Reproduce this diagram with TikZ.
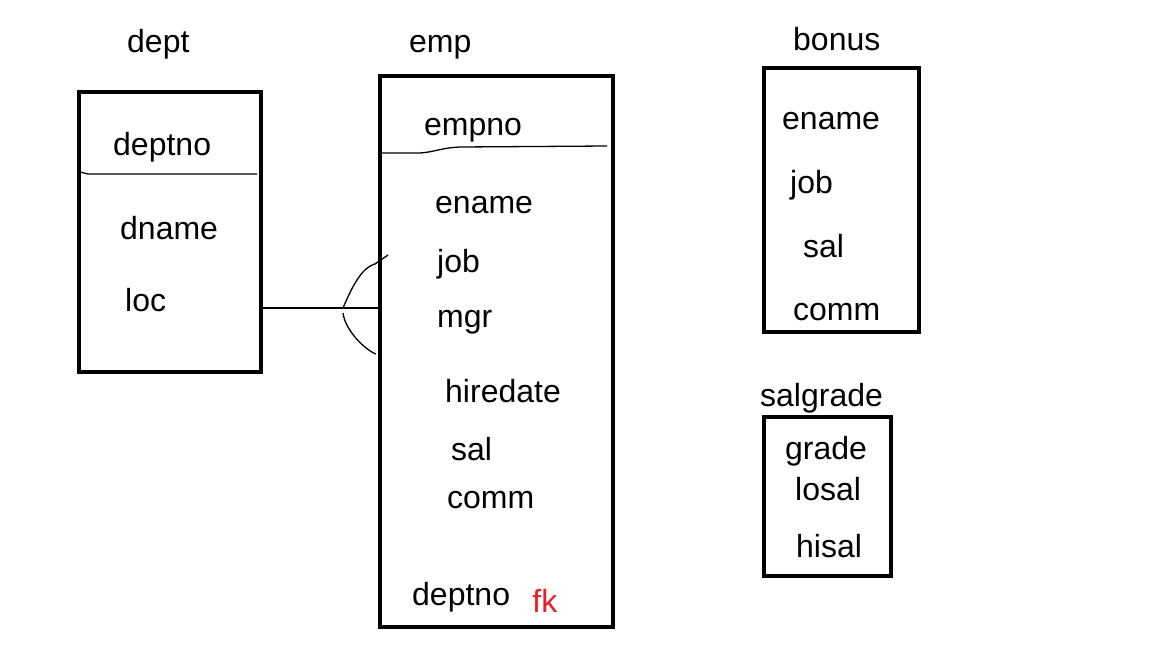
\documentclass[tikz,border=0pt]{standalone}
\usepackage{fontspec}
\setmainfont{Liberation Sans}
\usetikzlibrary{positioning}
\tikzset{
        x=1pt, y=-1pt, % one unit is one pixel, y runs down
        every node/.style={font=\fontsize{32}{37}\selectfont, inner sep=0pt, anchor=base west}, % field names
        thin line/.style={line width=1.3pt}, % dividers and the relation
    }
\tikzstyle{table}=[draw,line width=4.6pt,rectangle,inner sep=0pt,outer sep=0pt,anchor=center]
\definecolor{fkred}{RGB}{235,30,40}

\begin{document}
\begin{tikzpicture}
    \useasboundingbox[fill=white] (0,0) rectangle (1152,648);

    % tables
    \node[table, minimum width=182pt, minimum height=280pt] (dept) at (170,232) {};
    \node[table, minimum width=233pt, minimum height=551pt] (emp) at (496.5,351.5) {};
    \node[table, minimum width=155pt, minimum height=264pt] (bonus) at (841.5,200) {};
    \node[table, minimum width=127pt, minimum height=159pt] (salgrade) at (827.5,496.5) {};

    % titles
    \node (deptT) at (127,52) {dept};
    \node (empT) at (409,52) {emp};
    \node (bonusT) at (793,50) {bonus};
    \node (salgradeT) at (760,406) {salgrade};

    % dept
    \node (dDeptno) at (113,155) {deptno};
    \node (dDname) at (120,239) {dname};
    \node (dLoc) at (125,311) {loc};

    % emp
    \node (eEmpno) at (424,135) {empno};
    \node (eEname) at (435,213) {ename};
    \node (eJob) at (437,272) {job};
    \node (eMgr) at (437,327) {mgr};
    \node (eHiredate) at (445,402) {hiredate};
    \node (eSal) at (451,460) {sal};
    \node (eComm) at (447,508) {comm};
    \node (eDeptno) at (412,605) {deptno};
    \node[text=fkred, right=22pt of eDeptno.base east, anchor=base west, yshift=-7pt] (eFk) {fk};

    % bonus
    \node (bEname) at (782,129) {ename};
    \node (bJob) at (790,193) {job};
    \node (bSal) at (803,257) {sal};
    \node (bComm) at (793,320) {comm};

    % salgrade
    \node (sGrade) at (785,459) {grade};
    \node (sLosal) at (795,500) {losal};
    \node (sHisal) at (796,557) {hisal};

    % key dividers
    \coordinate (dDivL) at (80,172);
    \coordinate (dDivR) at (257,174);
    \coordinate (eDivL) at (380,153);
    \coordinate (eDivR) at (607,146);
    \draw[thin line] (dDivL) -- (88,174) -- (dDivR);
    \draw[thin line] (eDivL) -- (420,153) .. controls (435,152) and (440,148) .. (460,147) -- (eDivR);

    % relation dept -< emp
    \coordinate (relL) at (dept.east |- 0,308);
    \coordinate (relR) at (emp.west |- 0,308);
    \coordinate (crowTop) at (388,255);
    \coordinate (crowBot) at (376,354);
    \draw[thin line] (relL) -- (relR);
    \draw[thin line] (343,308) .. controls (350,292) and (360,268) .. (375,264) -- (crowTop);
    \draw[thin line] (343,313) .. controls (345,330) and (365,350) .. (crowBot);
\end{tikzpicture}
\end{document}
